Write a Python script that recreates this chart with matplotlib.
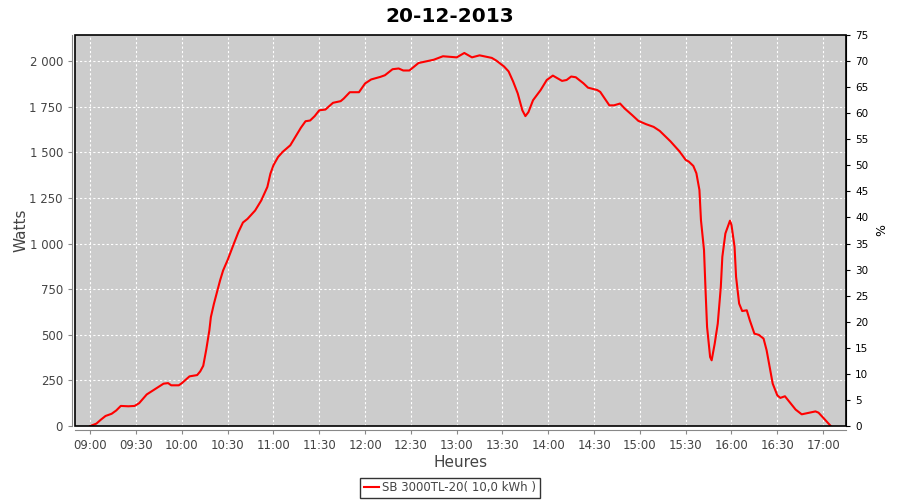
import matplotlib
matplotlib.use('Agg')
import matplotlib.pyplot as plt
from matplotlib.ticker import FuncFormatter, MultipleLocator
from matplotlib.patches import Rectangle

titre = "20-12-2013"
serie = "SB 3000TL-20( 10,0 kWh )"

heures = ["09:00", "09:04", "09:07", "09:10", "09:14", "09:17", "09:20", "09:25", "09:29", "09:32",
          "09:37", "09:42", "09:48", "09:51", "09:53", "09:58", "10:00", "10:05", "10:10", "10:12",
          "10:14", "10:16", "10:18", "10:19", "10:21", "10:23", "10:25", "10:27", "10:30", "10:34",
          "10:37", "10:40", "10:43", "10:48", "10:52", "10:56", "10:58", "11:00", "11:03", "11:06",
          "11:11", "11:15", "11:18", "11:21", "11:24", "11:27", "11:30", "11:34", "11:39", "11:44",
          "11:46", "11:50", "11:56", "12:00", "12:04", "12:10", "12:13", "12:18", "12:22", "12:25",
          "12:29", "12:35", "12:40", "12:45", "12:51", "13:00", "13:05", "13:10", "13:15", "13:23",
          "13:26", "13:31", "13:34", "13:37", "13:40", "13:43", "13:45", "13:47", "13:50", "13:55",
          "13:59", "14:03", "14:09", "14:12", "14:15", "14:18", "14:23", "14:26", "14:32", "14:34",
          "14:37", "14:40", "14:43", "14:47", "14:50", "14:55", "14:59", "15:04", "15:09", "15:13",
          "15:20", "15:26", "15:30", "15:32", "15:35", "15:37", "15:39", "15:40", "15:42", "15:43",
          "15:44", "15:46", "15:47", "15:49", "15:51", "15:53", "15:54", "15:56", "15:59", "16:00",
          "16:02", "16:03", "16:05", "16:07", "16:10", "16:12", "16:15", "16:18", "16:21", "16:23",
          "16:25", "16:27", "16:30", "16:32", "16:35", "16:38", "16:42", "16:46", "16:50", "16:55",
          "16:57", "17:00", "17:05"]

watts = [0, 13, 35, 55, 67, 85, 110, 108, 110, 125,
         173, 200, 232, 235, 223, 223, 235, 272, 279, 299,
         330, 420, 524, 597, 670, 734, 797, 852, 910, 998,
         1062, 1115, 1135, 1181, 1236, 1310, 1383, 1429, 1474, 1502,
         1538, 1593, 1635, 1670, 1674, 1698, 1730, 1734, 1771, 1780,
         1794, 1829, 1829, 1877, 1899, 1913, 1922, 1955, 1959, 1948,
         1948, 1989, 1998, 2007, 2026, 2020, 2044, 2020, 2031, 2017,
         2002, 1970, 1943, 1887, 1822, 1730, 1698, 1720, 1785, 1841,
         1896, 1920, 1891, 1896, 1915, 1911, 1878, 1854, 1841, 1831,
         1794, 1757, 1757, 1767, 1740, 1703, 1672, 1654, 1639, 1617,
         1560, 1504, 1458, 1449, 1425, 1385, 1293, 1128, 964, 744,
         543, 378, 360, 451, 561, 762, 927, 1055, 1125, 1101,
         982, 817, 671, 630, 634, 579, 506, 499, 479, 415,
         323, 232, 168, 154, 163, 132, 90, 64, 71, 80,
         73, 46, 0]


def minutes(h):
    hh, mm = h.split(":")
    return int(hh) * 60 + int(mm)


x = [minutes(h) for h in heures]

gris = '#444444'
fig = plt.figure(figsize=(9, 5), dpi=100)
ax = fig.add_axes([75 / 900, 74 / 500, 771 / 900, 391 / 500])
ax.set_facecolor('#cccccc')

ax.plot(x, watts, color='#ff0000', lw=1.5, label=serie, zorder=3)

ax.set_xlim(530, 1035)
ax.set_ylim(0, 2142.5)
ax.xaxis.set_major_locator(MultipleLocator(30))
ax.xaxis.set_major_formatter(FuncFormatter(lambda v, p: "%02d:%02d" % (v // 60, v % 60)))
ax.yaxis.set_major_locator(MultipleLocator(250))
ax.yaxis.set_major_formatter(FuncFormatter(lambda v, p: "{:,}".format(int(v)).replace(",", " ")))

ax.grid(True, color='white', ls=(0, (2, 2)), lw=0.8)
ax.set_axisbelow(True)

for s in ['top', 'right']:
    ax.spines[s].set_visible(False)
ax.spines['left'].set_position(('outward', 2.2))
ax.spines['bottom'].set_position(('outward', 2.9))
ax.spines['left'].set_color('#888888')
ax.spines['bottom'].set_color('#888888')
ax.tick_params(axis='both', colors='#888888', labelcolor=gris, labelsize=8.5, length=3)

# cadre noir de la zone de tracé
ax.add_patch(Rectangle((0, 0), 1, 1, transform=ax.transAxes, fill=False,
                       edgecolor='black', lw=1.2, zorder=4, clip_on=False))

ax.set_xlabel("Heures", fontsize=11, color=gris, labelpad=2)
ax.set_ylabel("Watts", fontsize=11, color=gris, labelpad=1)

ax2 = ax.twinx()
ax2.set_ylim(0, 75)
ax2.yaxis.set_major_locator(MultipleLocator(5))
for s in ['top', 'left', 'bottom']:
    ax2.spines[s].set_visible(False)
ax2.spines['right'].set_color('black')
ax2.tick_params(axis='y', colors='black', labelsize=7.5, length=3)
ax2.set_ylabel("%", fontsize=9, color='black', labelpad=5)

fig.suptitle(titre, fontsize=14.5, fontweight='bold', y=0.985)

leg = fig.legend(loc='lower center', bbox_to_anchor=(0.5, 0.0), fontsize=8.5,
                 frameon=True, fancybox=False, edgecolor='black', handlelength=1.3,
                 handletextpad=0.3, borderpad=0.3, borderaxespad=0.2)
leg.get_frame().set_linewidth(1.0)
for t in leg.get_texts():
    t.set_color(gris)

plt.savefig('out.png', dpi=100)
